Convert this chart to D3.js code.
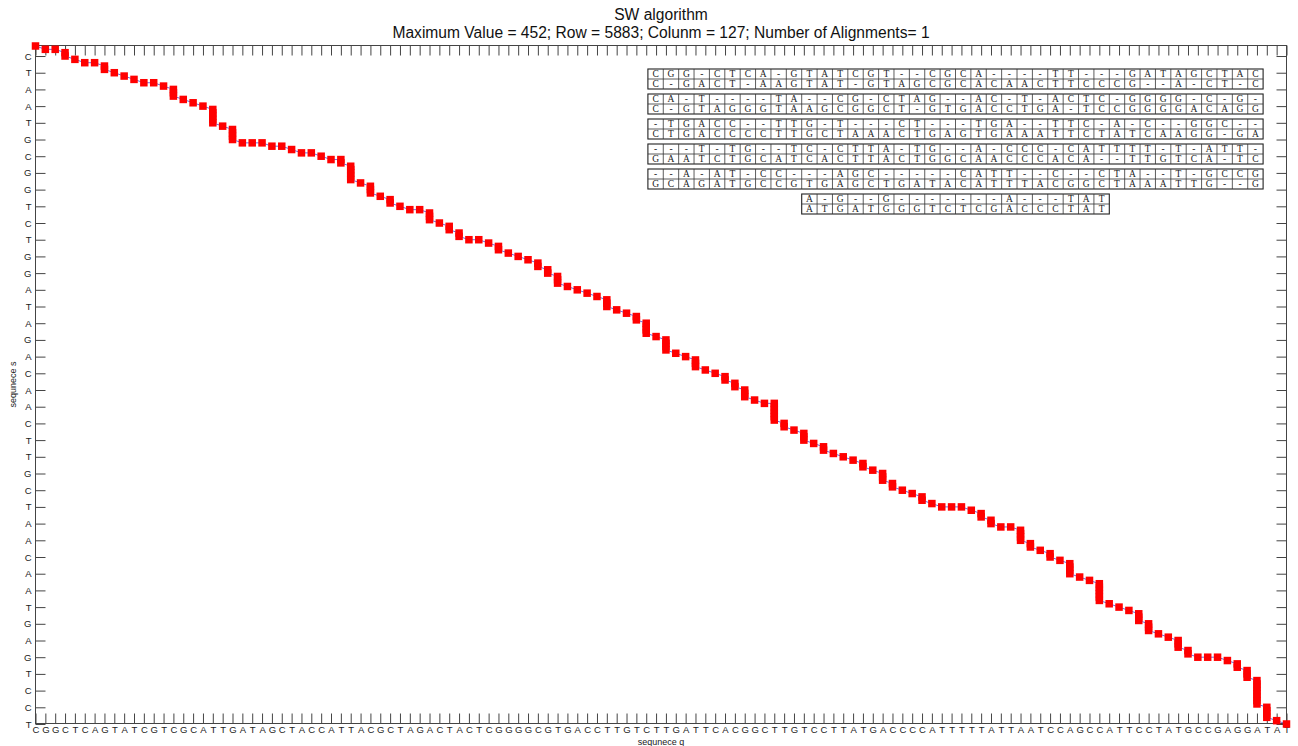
<!DOCTYPE html>
<html>
<head>
<meta charset="utf-8">
<script src="https://cdn.jsdelivr.net/npm/d3@7"></script>
<style>
  body { margin: 0; background: #fff; }
  svg { display: block; font-family: "Liberation Sans", Arial, sans-serif; }
</style>
</head>
<body>
<div id="chart"></div>
<script>
// sequence q along the columns (x tick labels)
const seqQ = "CGGCTCAGTATCGTCGCATTGATAGCTACCATTACGCTAGACTACTCGGGGCGTGACCTTGTCTTGATTCACGGCTTGTCCTTATGACCCCATTTTTATTAATCCAGCCATTCCTATGCCGAGGATAT".split("");

// letters of sequence s shown on the y axis (every 5th row, starting at row 3)
const yTickLabels = "CTAATGCGGTCTGGATAGACAACTTGCTAACAATGAGTCCT".split("");

// the alignment as printed in the boxes: top line = q, bottom line = s
const alignTop = [
  "CGG-CTCA-GTATCGT--CGCA----TT---GATAGCTAC",
  "CA-T----TA--CG-CTAG--AC-T-ACTC-GGGG-C-G-",
  "-TGACC--TTG-T---CT---TGA--TTC-A-C--GGC--",
  "---T-TG--TC-CTTA-TG--A-CCC-CATTTT-T-ATT-",
  "--A-AT-CC---AGC-----CATT--C--CTA--T-GCCG",
  "A-G--G-------A---TAT"
];
const alignBottom = [
  "C-GACT-AAGTAT-GTAGCGCACAACTTCCCG--A-CT-C",
  "C-GTAGGGTAAGCGGCT-GTGACCTGA-TCCGGGGACAGG",
  "CTGACCCCTTGCTAAACTGAGTGAAATTCTATCAAGG-GA",
  "GAATCTGCATCACTTACTGGCAACCCACA--TTGTCA-TC",
  "GCAGATGCCGTGAGCTGATACATTTACGGCTAAATTG--G",
  "ATGATGGGTCTCGACCCTAT"
];

const titleLines = [
  "SW algorithm",
  "Maximum Value = 452; Row = 5883; Colunm = 127; Number of Alignments= 1"
];

const W = 1298, H = 746;
const svg = d3.select("#chart").append("svg")
    .attr("width", W)
    .attr("height", H);

// traceback path: walk the alignment through the score matrix
const topAll = alignTop.join(""), botAll = alignBottom.join("");
const cells = [{ i: 0, j: 0 }];
let ci = 0, cj = 0;
for (let k = 0; k < topAll.length; k++) {
    if (topAll[k] !== "-") ci++;
    if (botAll[k] !== "-") cj++;
    cells.push({ i: ci, j: cj });
}
const nS = botAll.replace(/-/g, "").length;
const xMax = seqQ.length - 1, yMax = nS - 1;

const x = d3.scaleLinear().domain([0, xMax]).range([35.5, 1286.5]);
const y = d3.scaleLinear().domain([0, yMax]).range([46, 724]);

const axL = 35.5, axR = 1286.5, axT = 45.5, axB = 723.5;

// axes (ticks pointing inwards on all four sides)
const axisCol = "#444";
function styleAxis(g) {
    g.select(".domain").remove();
    g.selectAll(".tick line").attr("stroke", axisCol);
    g.selectAll(".tick text")
        .attr("fill", "#222")
        .style("font-size", "9.5px")
        .style("font-family", '"Liberation Sans", Arial, sans-serif');
}

const xTicks = d3.range(seqQ.length);
const yTicks = d3.range(3, nS, 5);

svg.append("g")
    .attr("transform", `translate(0,${axB})`)
    .call(d3.axisBottom(x).tickValues(xTicks).tickFormat(i => seqQ[i])
        .tickSizeInner(-10).tickSizeOuter(0).tickPadding(3))
    .call(styleAxis);

svg.append("g")
    .attr("transform", `translate(0,${axT})`)
    .call(d3.axisTop(x).tickValues(xTicks).tickFormat("")
        .tickSizeInner(-10).tickSizeOuter(0))
    .call(styleAxis);

svg.append("g")
    .attr("transform", `translate(${axL},0)`)
    .call(d3.axisLeft(y).tickValues(yTicks).tickFormat((d, k) => yTickLabels[k])
        .tickSizeInner(-10).tickSizeOuter(0).tickPadding(4))
    .call(styleAxis);

svg.append("g")
    .attr("transform", `translate(${axR},0)`)
    .call(d3.axisRight(y).tickValues(yTicks).tickFormat("")
        .tickSizeInner(-10).tickSizeOuter(0))
    .call(styleAxis);

svg.append("rect")
    .attr("x", axL).attr("y", axT)
    .attr("width", axR - axL).attr("height", axB - axT)
    .attr("fill", "none")
    .attr("stroke", axisCol);

// path + square markers (points outside the axis limits are not drawn)
const shown = cells.filter(d => d.i <= xMax && d.j <= yMax);

svg.append("path")
    .datum(shown)
    .attr("fill", "none")
    .attr("stroke", "#6a6ae0")
    .attr("stroke-width", 1)
    .attr("d", d3.line().x(d => x(d.i)).y(d => y(d.j)));

const ms = 7.5;
svg.append("g")
    .selectAll("rect")
    .data(shown)
    .join("rect")
    .attr("x", d => x(d.i) - ms / 2)
    .attr("y", d => y(d.j) - ms / 2)
    .attr("width", ms)
    .attr("height", ms)
    .attr("fill", "#ff0000");

// alignment text boxes
const cellW = 15.38, lineH = 10, boxCx = 955.5, boxTop0 = 69, boxPitch = 25;
const boxes = svg.append("g").attr("class", "alignment");

alignTop.forEach((t, r) => {
    const n = t.length;
    const cx = d3.scaleBand().domain(d3.range(n)).range([boxCx - n * cellW / 2, boxCx + n * cellW / 2]);
    const y0 = boxTop0 + r * boxPitch;
    const g = boxes.append("g");

    g.append("rect")
        .attr("x", cx.range()[0]).attr("y", y0)
        .attr("width", n * cellW).attr("height", 2 * lineH)
        .attr("fill", "#fff")
        .attr("stroke", "#222").attr("stroke-width", 1.1);

    g.append("line")
        .attr("x1", cx.range()[0]).attr("x2", cx.range()[1])
        .attr("y1", y0 + lineH).attr("y2", y0 + lineH)
        .attr("stroke", "#333").attr("stroke-width", 0.8);

    g.selectAll(".sep")
        .data(d3.range(1, n))
        .join("line")
        .attr("x1", k => cx(k)).attr("x2", k => cx(k))
        .attr("y1", y0).attr("y2", y0 + 2 * lineH)
        .attr("stroke", "#333").attr("stroke-width", 0.8);

    [t, alignBottom[r]].forEach((line, li) => {
        g.selectAll(null)
            .data(line.split(""))
            .join("text")
            .attr("x", (c, k) => cx(k) + cx.bandwidth() / 2)
            .attr("y", y0 + li * lineH + lineH / 2)
            .attr("dy", "0.36em")
            .attr("text-anchor", "middle")
            .style("font-family", '"Liberation Serif", "DejaVu Serif", serif')
            .style("font-size", "9.5px")
            .attr("fill", "#222")
            .text(c => c);
    });
});

// titles and axis labels
svg.selectAll(".title")
    .data(titleLines)
    .join("text")
    .attr("class", "title")
    .attr("x", (axL + axR) / 2)
    .attr("y", (d, k) => 20 + k * 18)
    .attr("text-anchor", "middle")
    .style("font-size", "15.6px")
    .attr("fill", "#111")
    .text(d => d);

svg.append("text")
    .attr("x", (axL + axR) / 2)
    .attr("y", 745)
    .attr("text-anchor", "middle")
    .style("font-size", "9px")
    .attr("fill", "#222")
    .text("sequnece q");

svg.append("text")
    .attr("transform", `translate(16,${(axT + axB) / 2}) rotate(-90)`)
    .attr("text-anchor", "middle")
    .style("font-size", "9px")
    .attr("fill", "#222")
    .text("sequnece s");
</script>
</body>
</html>
